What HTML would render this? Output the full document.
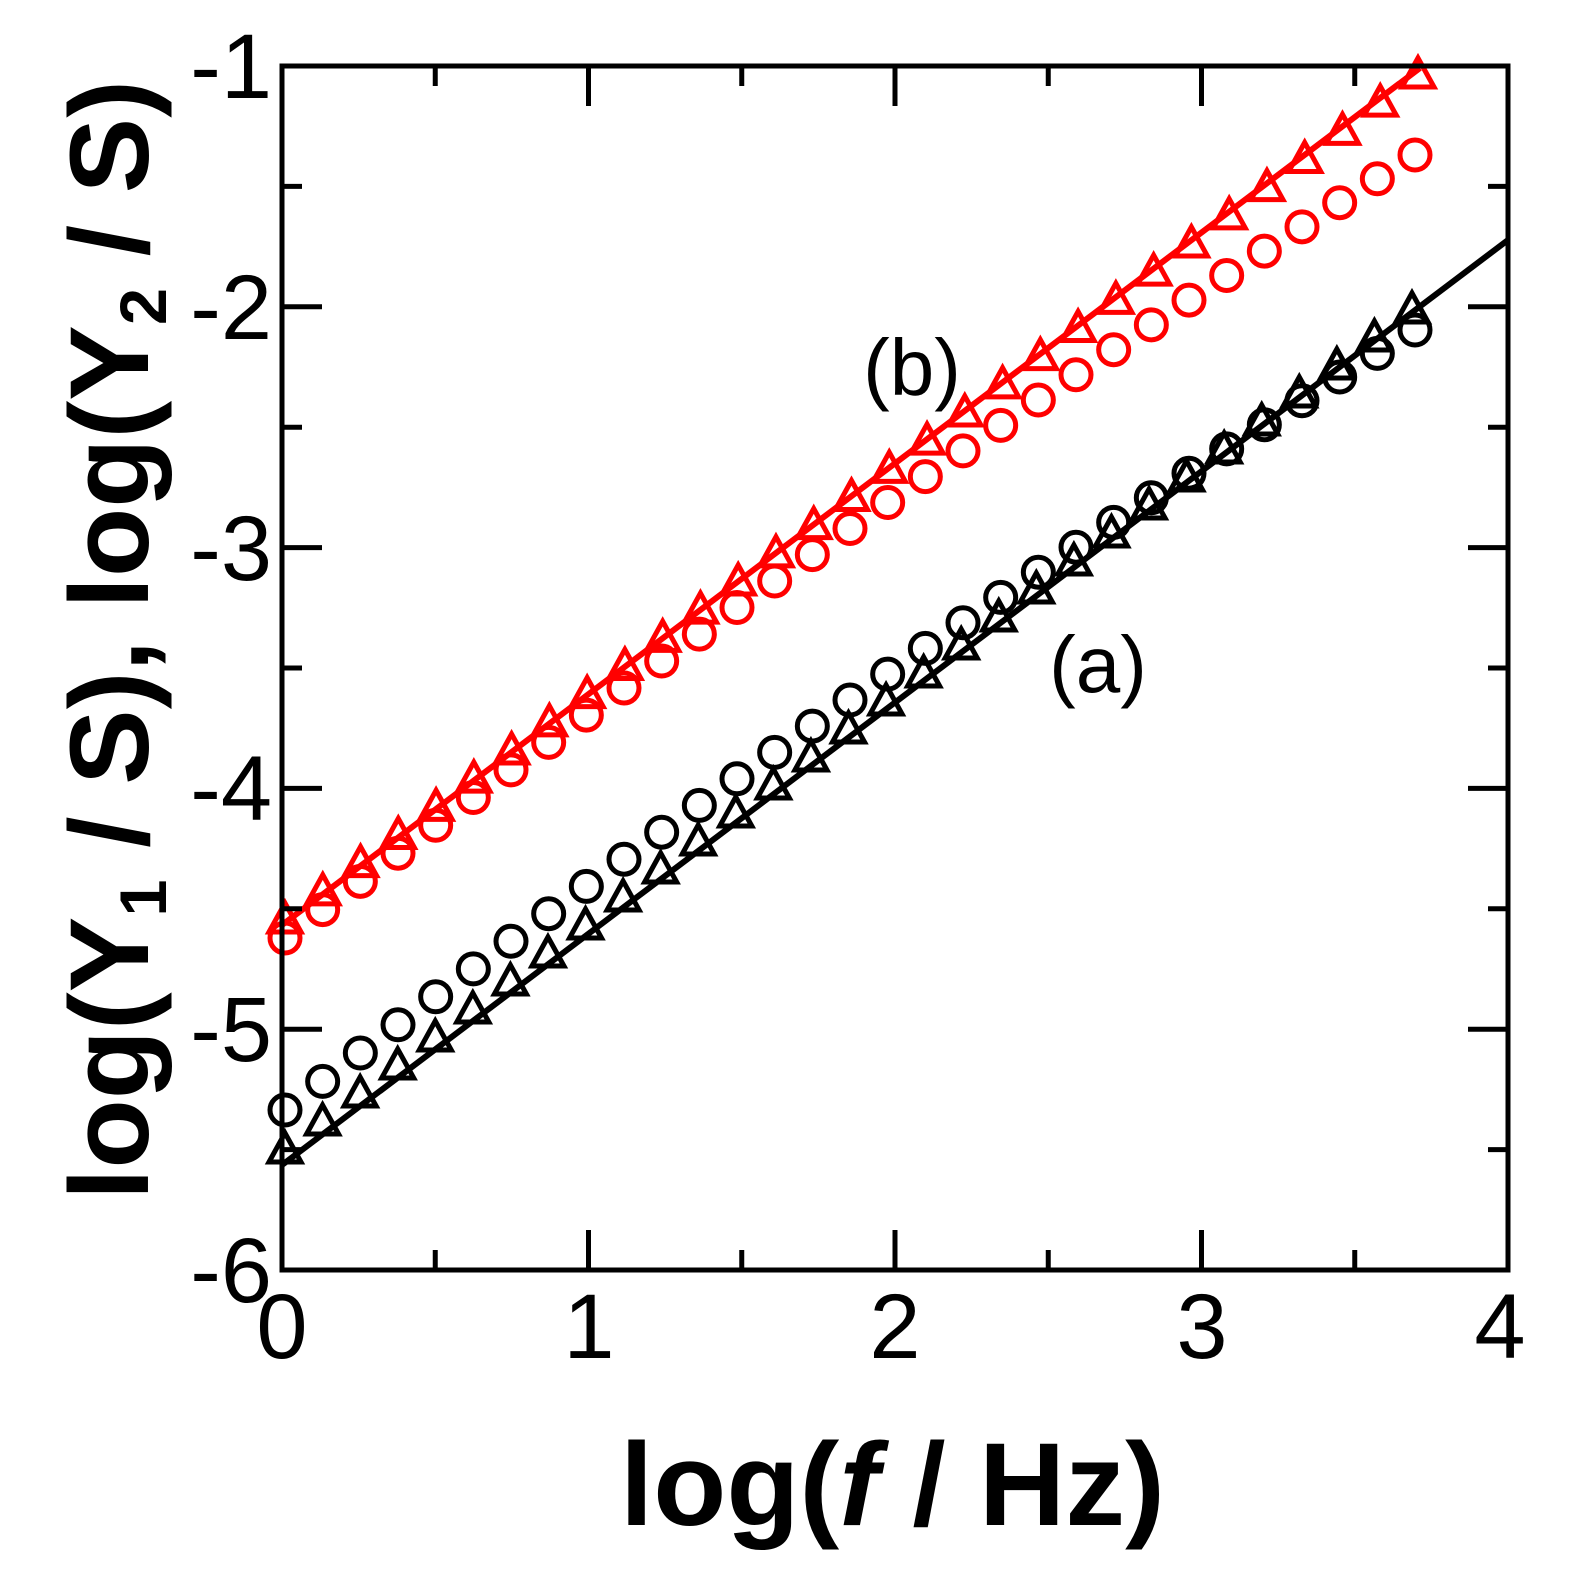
<!DOCTYPE html>
<html><head><meta charset="utf-8"><style>
html,body{margin:0;padding:0;background:#fff;}
svg{display:block;}
text{font-family:"Liberation Sans",sans-serif;}
</style></head><body>
<svg id="s" width="1574" height="1590" viewBox="0 0 1574 1590" xmlns="http://www.w3.org/2000/svg">
<rect width="1574" height="1590" fill="#fff"/>
<g id="data"></g>
<rect x="282" y="66" width="1226" height="1204" fill="none" stroke="#000" stroke-width="5"/>
<g id="ticks" stroke="#000" stroke-width="5"></g>
<g font-size="92" fill="#000" text-anchor="end">
<text x="272" y="98">-1</text>
<text x="272" y="339">-2</text>
<text x="272" y="580">-3</text>
<text x="272" y="820">-4</text>
<text x="272" y="1061">-5</text>
<text x="272" y="1302">-6</text>
</g>
<g font-size="92" fill="#000" text-anchor="middle">
<text x="282" y="1358">0</text>
<text x="589" y="1358">1</text>
<text x="895" y="1358">2</text>
<text x="1202" y="1358">3</text>
<text x="1500" y="1358">4</text>
</g>
<text x="620" y="1525" font-size="118" font-weight="bold" textLength="545" lengthAdjust="spacingAndGlyphs">log(<tspan font-style="italic">f</tspan> / Hz)</text>
<text transform="translate(148,1200) rotate(-90)" font-size="112" font-weight="bold" textLength="1120" lengthAdjust="spacingAndGlyphs">log(Y<tspan font-size="66" dy="18">1</tspan><tspan dy="-18"> / S), log(Y</tspan><tspan font-size="66" dy="18">2</tspan><tspan dy="-18"> / S)</tspan></text>
<text x="912" y="395" font-size="80" text-anchor="middle">(b)</text>
<text x="1098" y="692" font-size="80" text-anchor="middle">(a)</text>
</svg>
<script>
var NS="http://www.w3.org/2000/svg",d=document.getElementById("data"),t=document.getElementById("ticks");
function el(n,a,p){var e=document.createElementNS(NS,n);for(var k in a)e.setAttribute(k,a[k]);(p||d).appendChild(e);return e;}
for(var i=0;i<=8;i++){var x=282+i*153.25,L=(i%2==0)?40:20;
 el("line",{x1:x,y1:1270,x2:x,y2:1270-L},t);el("line",{x1:x,y1:66,x2:x,y2:66+L},t);}
for(var j=0;j<=10;j++){var y=66+j*120.4,L=(j%2==0)?40:20;
 el("line",{x1:282,y1:y,x2:282+L,y2:y},t);el("line",{x1:1508,y1:y,x2:1508-L,y2:y},t);}
function quad(x0,y0,x1,y1,bow,x){var f=(x-x0)/(x1-x0);return y0+(y1-y0)*f-bow*4*f*(1-f);}
var N=31;
function series(x0,y0,x1,y1,bow,col,type){
 for(var k=0;k<N;k++){var x=x0+(x1-x0)*k/(N-1),y=quad(x0,y0,x1,y1,bow,x);
  if(type=="c")el("circle",{cx:x,cy:y,r:15,fill:"none",stroke:col,"stroke-width":5});
  else el("polygon",{points:(x)+","+(y-17)+" "+(x-16)+","+(y+12)+" "+(x+16)+","+(y+12),fill:"none",stroke:col,"stroke-width":5});}}
series(285,1150,1412,310,0,"#000","t");
series(285,1110,1415,330,20,"#000","c");
el("line",{x1:282,y1:1165,x2:1508,y2:240,stroke:"#000","stroke-width":6});
series(285,938,1415,155,18,"#f00","c");
series(285,920,1418,75,0,"#f00","t");
el("line",{x1:282,y1:925,x2:1420,y2:68,stroke:"#f00","stroke-width":6});
</script>
</body></html>
